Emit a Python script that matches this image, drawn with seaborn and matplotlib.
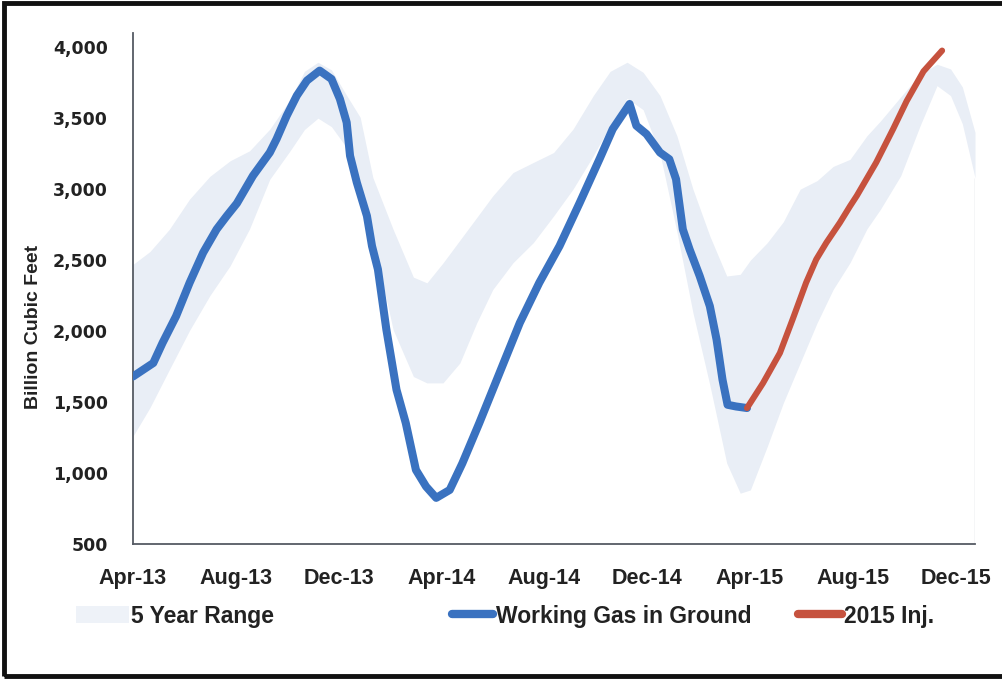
import pandas as pd
import seaborn as sns
import matplotlib.pyplot as plt
import matplotlib.dates as mdates
from matplotlib.lines import Line2D
from matplotlib.patches import Patch, Rectangle
from matplotlib.ticker import FuncFormatter

# Working gas in ground (Bcf)
wg_dates = ["2013-04-01", "2013-04-25", "2013-05-06", "2013-05-22", "2013-06-07", "2013-06-23",
            "2013-07-09", "2013-07-21", "2013-08-02", "2013-08-21", "2013-09-10", "2013-09-18",
            "2013-09-30", "2013-10-12", "2013-10-24", "2013-11-08", "2013-11-22", "2013-12-02",
            "2013-12-10", "2013-12-14", "2013-12-22", "2014-01-03", "2014-01-09", "2014-01-16",
            "2014-01-26", "2014-02-07", "2014-02-18", "2014-03-02", "2014-03-14", "2014-03-26",
            "2014-04-11", "2014-04-26", "2014-05-16", "2014-06-09", "2014-07-03", "2014-07-26",
            "2014-08-19", "2014-09-12", "2014-10-06", "2014-10-21", "2014-11-10", "2014-11-18",
            "2014-11-30", "2014-12-16", "2014-12-27", "2015-01-04", "2015-01-12", "2015-01-20",
            "2015-02-01", "2015-02-13", "2015-02-21", "2015-02-28", "2015-03-06", "2015-03-16",
            "2015-03-29"]
wg_values = [1680, 1775, 1917, 2105, 2340, 2552, 2717, 2811, 2900, 3094,
             3258, 3353, 3517, 3659, 3765, 3835, 3776, 3635, 3470, 3235,
             3047, 2811, 2599, 2435, 2011, 1587, 1352, 1022, 905, 825,
             881, 1069, 1352, 1705, 2058, 2340, 2599, 2905, 3220, 3423,
             3600, 3447, 3388, 3258, 3211, 3070, 2717, 2576, 2388, 2176,
             1940, 1658, 1481, 1469, 1458]

# 2015 injection season
inj_dates = ["2015-03-29", "2015-04-17", "2015-05-07", "2015-05-22", "2015-06-07", "2015-06-19",
             "2015-07-01", "2015-07-17", "2015-07-29", "2015-08-06", "2015-08-29", "2015-09-18",
             "2015-10-04", "2015-10-24", "2015-11-15"]
inj_values = [1458, 1634, 1846, 2082, 2341, 2505, 2623, 2764, 2880, 2953, 3188, 3423,
              3620, 3830, 3976]

# 5 year range (min / max)
band_dates = ["2013-04-01", "2013-04-21", "2013-05-14", "2013-06-07", "2013-07-01", "2013-07-25",
              "2013-08-17", "2013-09-10", "2013-10-04", "2013-10-21", "2013-11-06", "2013-11-22",
              "2013-12-09", "2013-12-26", "2014-01-10", "2014-02-03", "2014-02-27", "2014-03-15",
              "2014-04-03", "2014-04-23", "2014-05-13", "2014-06-01", "2014-06-25", "2014-07-19",
              "2014-08-12", "2014-09-04", "2014-09-28", "2014-10-18", "2014-11-07", "2014-11-26",
              "2014-12-16", "2015-01-05", "2015-01-24", "2015-02-13", "2015-03-05", "2015-03-21",
              "2015-04-02", "2015-04-22", "2015-05-11", "2015-05-31", "2015-06-20", "2015-07-09",
              "2015-07-29", "2015-08-18", "2015-09-03", "2015-09-27", "2015-10-20", "2015-11-09",
              "2015-11-25", "2015-12-09", "2015-12-24"]
band_upper = [2470, 2560, 2717, 2930, 3090, 3200, 3270, 3423, 3630, 3830,
              3894, 3840, 3670, 3506, 3082, 2717, 2380, 2340, 2480, 2640,
              2800, 2953, 3117, 3188, 3258, 3423, 3659, 3830, 3894, 3823,
              3659, 3376, 3000, 2670, 2388, 2400, 2500, 2623, 2770, 3000,
              3060, 3160, 3210, 3376, 3480, 3650, 3810, 3880, 3847, 3720, 3400]
band_lower = [1260, 1460, 1728, 2005, 2250, 2460, 2720, 3070, 3270, 3420,
              3500, 3440, 3300, 3000, 2650, 2010, 1680, 1635, 1635, 1775,
              2058, 2293, 2482, 2623, 2811, 3000, 3235, 3450, 3640, 3560,
              3250, 2700, 2130, 1620, 1070, 858, 881, 1187, 1494, 1776,
              2058, 2293, 2482, 2720, 2858, 3094, 3447, 3729, 3659, 3460, 3080]

y_ticks = [500, 1000, 1500, 2000, 2500, 3000, 3500, 4000]

BLUE = "#3a72c0"
RED = "#c6523e"
BAND = "#e9eef6"

sns.set_style("white")
plt.rcParams['font.family'] = ['Liberation Sans', 'DejaVu Sans']

wg = pd.DataFrame({"date": pd.to_datetime(wg_dates), "value": wg_values})
inj = pd.DataFrame({"date": pd.to_datetime(inj_dates), "value": inj_values})
band = pd.DataFrame({"date": pd.to_datetime(band_dates), "lo": band_lower, "hi": band_upper})

fig = plt.figure(figsize=(10.03, 6.79), dpi=100)
ax = fig.add_axes([0.1326, 0.1988, 0.8395, 0.7526])

ax.fill_between(band["date"], band["lo"], band["hi"], color=BAND, lw=0, zorder=1)
ax.vlines(band["date"].iloc[-1], y_ticks[0], band["lo"].iloc[-1], color="#cfd3db", lw=1, zorder=1)

sns.lineplot(data=wg, x="date", y="value", ax=ax, color=BLUE, lw=5.8,
             solid_capstyle="round", solid_joinstyle="round", zorder=3)
sns.lineplot(data=inj, x="date", y="value", ax=ax, color=RED, lw=4.4,
             solid_capstyle="round", solid_joinstyle="round", zorder=4)

ax.set_xlim(pd.Timestamp("2013-04-01"), pd.Timestamp("2015-12-24"))
ax.set_ylim(500, 4100)
ax.set_yticks(y_ticks)
ax.yaxis.set_major_formatter(FuncFormatter(lambda v, p: f"{int(v):,}"))
ax.xaxis.set_major_locator(mdates.MonthLocator(bymonth=[4, 8, 12]))
ax.xaxis.set_major_formatter(mdates.DateFormatter("%b-%y"))

for s in ["top", "right"]:
    ax.spines[s].set_visible(False)
for s in ["left", "bottom"]:
    ax.spines[s].set_color("#555a63")
    ax.spines[s].set_linewidth(1.3)

ax.tick_params(axis="y", direction="out", length=5, width=1.2, color="#555a63", pad=13)
ax.tick_params(axis="x", direction="out", length=5, width=1.2, color="#555a63", pad=12)
for lab in ax.get_yticklabels():
    lab.set_fontfamily("DejaVu Sans")
    lab.set_fontweight("bold")
    lab.set_fontsize(12.5)
    lab.set_color("#222222")
for lab in ax.get_xticklabels():
    lab.set_fontweight("bold")
    lab.set_fontsize(15.5)
    lab.set_color("#222222")

ax.set_xlabel("")
ax.set_ylabel("Billion Cubic Feet", fontsize=14, fontweight="bold", color="#222222")
ax.yaxis.set_label_coords(-0.108, 0.425)

# legend entries, placed one by one like the original
leg_y = 1 - 616 / 679
entries = [
    (Patch(facecolor="#eef2f8", edgecolor="none"), "5 Year Range", 76 / 1003, 2.3),
    (Line2D([], [], color=BLUE, lw=6, solid_capstyle="round"), "Working Gas in Ground", 452 / 1003, 1.8),
    (Line2D([], [], color=RED, lw=6, solid_capstyle="round"), "2015 Inj.", 798 / 1003, 1.9),
]
for handle, label, x0, hl in entries:
    leg = fig.legend([handle], [label], loc="center left", bbox_to_anchor=(x0, leg_y),
                     frameon=False, handlelength=hl, handleheight=0.7, handletextpad=0.1,
                     borderpad=0, borderaxespad=0,
                     prop={"family": "Liberation Sans", "weight": "bold", "size": 16.5})
    for t in leg.get_texts():
        t.set_color("#222222")

# outer frame of the picture
fig.patches.append(Rectangle((0.004, 0.005), 1.2, 0.99, transform=fig.transFigure,
                             fill=False, edgecolor="#111111", lw=3.5))

fig.savefig("out.png", dpi=100)
